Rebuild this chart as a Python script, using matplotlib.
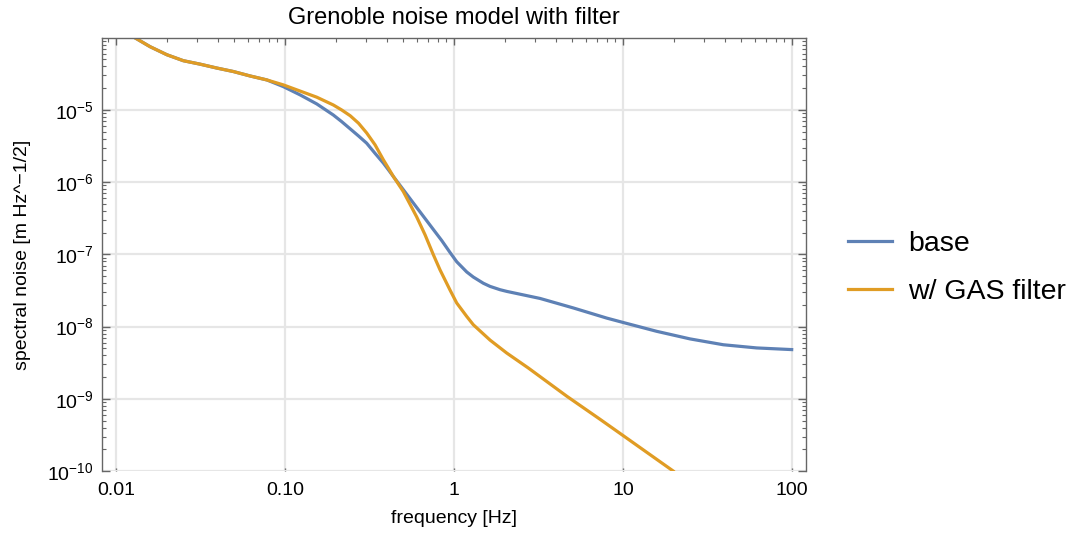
import matplotlib
matplotlib.use("Agg")
import matplotlib.pyplot as plt
from matplotlib.ticker import LogLocator, FixedLocator, FixedFormatter, NullFormatter, LogFormatterMathtext

plt.rcParams['font.family'] = ['Liberation Sans', 'DejaVu Sans']
plt.rcParams['mathtext.fontset'] = 'custom'
plt.rcParams['mathtext.rm'] = 'Liberation Sans'
plt.rcParams['mathtext.it'] = 'Liberation Sans:italic'

# values
freq_base = [0.0129, 0.0159, 0.0200, 0.025, 0.0314, 0.0394, 0.0494, 0.0621, 0.078,
             0.0977, 0.123, 0.154, 0.193, 0.216, 0.243, 0.272, 0.304, 0.341, 0.382, 0.409,
             0.438, 0.482, 0.601, 0.754, 0.846, 0.947, 1.037, 1.189, 1.30, 1.49,
             1.633, 1.87, 2.05, 3.23, 5.08, 8.01, 10.0, 15.8, 24.9, 39.2, 61.8, 99.5]
noise_base = [1.0e-4, 7.5e-5, 5.8e-5, 4.8e-5, 4.3e-5, 3.8e-5, 3.4e-5, 2.95e-5, 2.6e-5,
              2.1e-5, 1.61e-5, 1.21e-5, 8.5e-6, 6.9e-6, 5.46e-6, 4.36e-6, 3.46e-6, 2.5e-6, 1.83e-6, 1.48e-6,
              1.19e-6, 8.85e-7, 4.46e-7, 2.21e-7, 1.55e-7, 1.06e-7, 7.9e-8, 5.7e-8, 4.85e-8, 3.98e-8,
              3.6e-8, 3.24e-8, 3.07e-8, 2.45e-8, 1.81e-8, 1.31e-8, 1.14e-8, 8.6e-9, 6.75e-9, 5.6e-9, 5.06e-9,
              4.8e-9]

freq_gas = [0.0129, 0.0159, 0.0200, 0.025, 0.0314, 0.0394, 0.0494, 0.0621, 0.078,
            0.0977, 0.123, 0.154, 0.193, 0.216, 0.243, 0.272, 0.304, 0.341, 0.382, 0.409,
            0.438, 0.501, 0.601, 0.674, 0.754, 0.826, 0.947, 1.037, 1.189, 1.30, 1.633, 2.05,
            2.75, 4.66, 7.31, 10.0, 19.8]
noise_gas = [1.0e-4, 7.5e-5, 5.8e-5, 4.8e-5, 4.3e-5, 3.8e-5, 3.4e-5, 2.95e-5, 2.6e-5,
             2.22e-5, 1.82e-5, 1.5e-5, 1.17e-5, 1.0e-5, 8.3e-6, 6.55e-6, 4.8e-6, 3.28e-6, 2.03e-6, 1.56e-6,
             1.19e-6, 7.4e-7, 3.3e-7, 1.86e-7, 9.9e-8, 6.1e-8, 3.2e-8, 2.12e-8, 1.38e-8, 1.06e-8, 6.5e-9, 4.3e-9,
             2.67e-9, 1.08e-9, 5.2e-10, 3.1e-10, 1.0e-10]

x_ticks = [0.01, 0.1, 1, 10, 100]
x_ticklabels = ["0.01", "0.10", "1", "10", "100"]

fig = plt.figure(figsize=(10.75, 5.35), dpi=100)
ax = fig.add_axes([0.0949, 0.1196, 0.6549, 0.8094])

ax.plot(freq_base, noise_base, color="#5E81B5", lw=2.3, label="base")
ax.plot(freq_gas, noise_gas, color="#E09C24", lw=2.3, label="w/ GAS filter")

ax.set_xscale("log")
ax.set_yscale("log")
ax.set_xlim(0.00826, 121)
ax.set_ylim(1e-10, 9.9e-5)

ax.xaxis.set_major_locator(FixedLocator(x_ticks))
ax.xaxis.set_major_formatter(FixedFormatter(x_ticklabels))
ax.xaxis.set_minor_locator(LogLocator(base=10, subs=range(2, 10), numticks=20))
ax.xaxis.set_minor_formatter(NullFormatter())
ax.yaxis.set_major_locator(LogLocator(base=10, numticks=20))
ax.yaxis.set_major_formatter(LogFormatterMathtext())
ax.yaxis.set_minor_locator(LogLocator(base=10, subs=range(2, 10), numticks=20))
ax.yaxis.set_minor_formatter(NullFormatter())

ax.grid(True, which="major", color="#e6e6e6", lw=1.6)
ax.set_axisbelow(True)

ax.spines["bottom"].set_visible(False)
for s in ["left", "top", "right"]:
    ax.spines[s].set_color("#666666")
    ax.spines[s].set_linewidth(1.0)

ax.tick_params(axis="y", which="major", direction="in", length=6, width=1, color="#666666",
               left=True, right=True, labelsize=14, pad=6)
ax.tick_params(axis="y", which="minor", direction="in", length=3, width=0.8, color="#666666",
               left=True, right=True)
ax.tick_params(axis="x", which="major", direction="in", length=5, width=1, color="#666666",
               top=True, bottom=True, labelsize=14, pad=8)
ax.tick_params(axis="x", which="minor", direction="in", length=3, width=0.8, color="#666666",
               top=True, bottom=False)
for t in ax.xaxis.get_major_ticks():
    t.tick1line.set_markersize(2)
    t.tick1line.set_color("#999999")

ax.set_title("Grenoble noise model with filter", fontsize=17, pad=10)
ax.set_xlabel("frequency [Hz]", fontsize=14, labelpad=8)
ax.set_ylabel("spectral noise [m Hz^\u22121/2]", fontsize=14, labelpad=12)

fig.legend(loc="center left", bbox_to_anchor=(0.789, 0.499), frameon=False,
           fontsize=20.5, handlelength=1.55, handletextpad=0.55, labelspacing=0.75,
           borderpad=0, borderaxespad=0)

fig.savefig("out.png", dpi=100)
